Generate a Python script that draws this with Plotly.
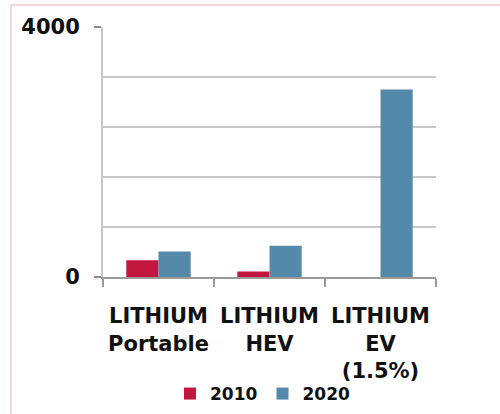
import plotly.graph_objects as go

# Battery demand by segment
categories = ["LITHIUM<br>Portable", "LITHIUM<br>HEV", "LITHIUM<br>EV<br>(1.5%)"]
years = ["2010", "2020"]
values_2010 = [270, 90, 0]
values_2020 = [410, 500, 3000]
y_tick_vals = [0, 4000]
y_tick_text = ["0", "4000"]

colors = {"2010": "#C1173F", "2020": "#5589AA"}

W, H = 500, 414
ML, MR, MT, MB = 103, 64, 27, 137

fig = go.Figure()
for year, vals in zip(years, [values_2010, values_2020]):
    fig.add_trace(go.Bar(
        x=categories, y=vals, name=year,
        marker=dict(color=colors[year], line=dict(width=0)),
    ))

font_family = "DejaVu Sans"

fig.update_layout(
    width=W, height=H,
    margin=dict(l=ML, r=MR, t=MT, b=MB, autoexpand=False),
    paper_bgcolor="white", plot_bgcolor="white",
    barmode="group", bargap=0.42, bargroupgap=0,
    font=dict(family=font_family, color="#111111"),
    showlegend=True,
    legend=dict(
        orientation="h", x=(170 - ML) / (W - ML - MR), xanchor="left",
        y=(H - MB - 394) / (H - MT - MB), yanchor="middle",
        font=dict(size=17, family=font_family, color="#111111", weight="bold"),
        itemwidth=30, tracegroupgap=0, bgcolor="rgba(0,0,0,0)",
    ),
    xaxis=dict(
        showline=True, linecolor="#9a9a9a", linewidth=2,
        ticks="outside", tickson="boundaries", ticklen=8, tickwidth=2, tickcolor="#9a9a9a",
        tickfont=dict(size=21, family=font_family, color="#111111", weight="bold"),
        ticklabelstandoff=19,
        showgrid=False, fixedrange=True,
    ),
    yaxis=dict(
        range=[0, 4000],
        tickvals=y_tick_vals, ticktext=y_tick_text,
        ticks="outside", ticklen=7, tickwidth=2, tickcolor="#8c8c8c",
        tickfont=dict(size=21, family=font_family, color="#111111", weight="bold"),
        ticklabelstandoff=10,
        showline=True, linecolor="#c8c8c8", linewidth=2,
        showgrid=True, gridcolor="#8c8c8c", gridwidth=2,
        zeroline=False,
        minor=dict(dtick=800, showgrid=True, gridcolor="#c8c8c8", gridwidth=2, ticks=""),
        fixedrange=True,
    ),
)

# light pink frame along the left and top edges of the chart
pw, ph = W - ML - MR, H - MT - MB
def px_x(px):
    return (px - ML) / pw
def px_y(py):
    return (H - MB - py) / ph
frame_color = "#F7D3DA"
fig.add_shape(type="line", xref="paper", yref="paper",
              x0=px_x(11), x1=px_x(11), y0=px_y(5), y1=px_y(H + 5),
              line=dict(color=frame_color, width=2), layer="below")
fig.add_shape(type="line", xref="paper", yref="paper",
              x0=px_x(11), x1=px_x(W + 5), y0=px_y(5), y1=px_y(5),
              line=dict(color=frame_color, width=2), layer="below")

fig.write_html("out.html")
